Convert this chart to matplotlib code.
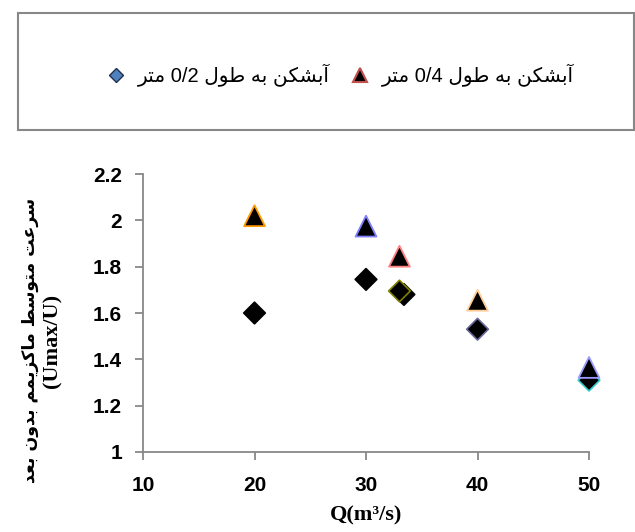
import matplotlib
matplotlib.use('Agg')
import matplotlib.pyplot as plt
from matplotlib.lines import Line2D
from matplotlib.patches import Rectangle

# breakwater 0.2 m (diamonds), one extra black point hidden behind the olive one
dia_x = [20, 30, 33.4, 33, 40, 50]
dia_y = [1.60, 1.745, 1.68, 1.695, 1.53, 1.31]
dia_edge = ['black', 'black', 'black', '#808000', '#666699', '#33CCCC']

# breakwater 0.4 m (triangles)
tri_x = [20, 30, 33, 40, 50]
tri_y = [2.02, 1.975, 1.845, 1.655, 1.365]
tri_edge = ['#FF9900', '#8080FF', '#FF8080', '#FFCC99', '#9999FF']

x_ticks = [10, 20, 30, 40, 50]
y_ticks = [1, 1.2, 1.4, 1.6, 1.8, 2, 2.2]

label_02 = 'آبشکن به طول 0/2 متر'
label_04 = 'آبشکن به طول 0/4 متر'
ylabel_fa = 'سرعت متوسط ماکزیمم بدون بعد'
ylabel_en = '(Umax/U)'
xlabel = 'Q(m³/s)'

# arabic presentation forms: (isolated, final) or (isolated, final, initial, medial)
FORMS = {
    'ا': (0xFE8D, 0xFE8E), 'آ': (0xFE81, 0xFE82),
    'ب': (0xFE8F, 0xFE90, 0xFE91, 0xFE92), 'ت': (0xFE95, 0xFE96, 0xFE97, 0xFE98),
    'د': (0xFEA9, 0xFEAA), 'ر': (0xFEAD, 0xFEAE), 'ز': (0xFEAF, 0xFEB0),
    'س': (0xFEB1, 0xFEB2, 0xFEB3, 0xFEB4), 'ش': (0xFEB5, 0xFEB6, 0xFEB7, 0xFEB8),
    'ط': (0xFEC1, 0xFEC2, 0xFEC3, 0xFEC4), 'ع': (0xFEC9, 0xFECA, 0xFECB, 0xFECC),
    'ک': (0xFB8E, 0xFB8F, 0xFB90, 0xFB91), 'ل': (0xFEDD, 0xFEDE, 0xFEDF, 0xFEE0),
    'م': (0xFEE1, 0xFEE2, 0xFEE3, 0xFEE4), 'ن': (0xFEE5, 0xFEE6, 0xFEE7, 0xFEE8),
    'ه': (0xFEE9, 0xFEEA, 0xFEEB, 0xFEEC), 'و': (0xFEED, 0xFEEE),
    'ی': (0xFBFC, 0xFBFD, 0xFEF3, 0xFEF4),
}


def shape(word):
    out = []
    for i, ch in enumerate(word):
        f = FORMS.get(ch)
        if f is None:
            out.append(ch)
            continue
        prev = word[i - 1] if i > 0 else ''
        nxt = word[i + 1] if i + 1 < len(word) else ''
        jp = prev in FORMS and len(FORMS[prev]) == 4
        jn = len(f) == 4 and nxt in FORMS
        if jp and jn:
            c = f[3]
        elif jp:
            c = f[1]
        elif jn:
            c = f[2]
        else:
            c = f[0]
        out.append(chr(c))
    return ''.join(out)


def rtl(text):
    vis = []
    for t in reversed(text.split(' ')):
        if any(ch in FORMS for ch in t):
            vis.append(shape(t)[::-1])
        else:
            vis.append(t)
    return ' '.join(vis)


fig = plt.figure(figsize=(6.35, 5.32), dpi=100)
ax = fig.add_axes([0.2252, 0.1504, 0.7024, 0.5225])

ax.scatter(dia_x, dia_y, marker='D', s=11 ** 2, c='black',
           edgecolors=dia_edge, linewidths=1.2, zorder=3, clip_on=False)
ax.scatter(tri_x, tri_y, marker='^', s=15 ** 2, c='black',
           edgecolors=tri_edge, linewidths=1.3, zorder=4, clip_on=False)

ax.set_xlim(10, 50)
ax.set_ylim(1, 2.2)
ax.set_xticks(x_ticks)
ax.set_yticks(y_ticks)
ax.set_xticklabels([str(v) for v in x_ticks])
ax.set_yticklabels(['%g' % v for v in y_ticks])
for s in ['top', 'right']:
    ax.spines[s].set_visible(False)
for s in ['left', 'bottom']:
    ax.spines[s].set_color('#888888')
    ax.spines[s].set_linewidth(1.3)
ax.tick_params(direction='out', length=6, width=1.3, color='#888888', labelsize=15)
ax.tick_params(axis='x', pad=11)
ax.tick_params(axis='y', pad=9)
for lab in ax.get_xticklabels() + ax.get_yticklabels():
    lab.set_fontfamily('Liberation Sans')
    lab.set_fontweight('bold')

ax.set_xlabel(xlabel, family='Liberation Serif', fontweight='bold', fontsize=16, labelpad=8)

fig.text(0.047, 0.36, rtl(ylabel_fa), rotation=90, ha='center', va='center',
         family=['DejaVu Sans'], fontweight='bold', fontsize=12.5)
fig.text(0.083, 0.36, ylabel_en, rotation=90, ha='center', va='center',
         family='Liberation Serif', fontweight='bold', fontsize=16)

# legend box
fig.patches.append(Rectangle((18 / 635, 1 - 130 / 532), 616 / 635, 117 / 532,
                             transform=fig.transFigure, fill=False,
                             edgecolor='#888888', linewidth=1.5))
h1 = Line2D([], [], linestyle='none', marker='D', markersize=7.5,
            markerfacecolor='#4F81BD', markeredgecolor='#1F2F4F', markeredgewidth=1)
h2 = Line2D([], [], linestyle='none', marker='^', markersize=10,
            markerfacecolor='black', markeredgecolor='#C0504D', markeredgewidth=1.5)
fig.legend([h1, h2], [rtl(label_02), rtl(label_04)], loc='center',
           bbox_to_anchor=(0.537, 1 - 75 / 532), ncol=2, frameon=False,
           handlelength=0.8, handletextpad=0.7, columnspacing=1.1,
           prop={'family': ['Liberation Sans', 'DejaVu Sans'], 'size': 14.5})

fig.savefig('out.png', dpi=100)
